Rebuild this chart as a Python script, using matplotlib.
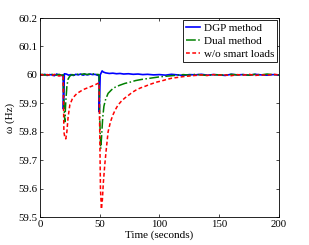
import matplotlib
matplotlib.use("Agg")
import matplotlib.pyplot as plt
from matplotlib.ticker import FuncFormatter

plt.rcParams['font.family'] = ['Liberation Serif', 'DejaVu Serif']

# DGP method
t_dgp = [0, 2, 4, 6, 8, 10, 12, 14, 16, 18, 19.4, 19.6, 20.4, 22, 24, 26, 28, 30, 32, 34,
         36, 38, 40, 42, 44, 46, 48, 49.4, 49.6, 50.4, 52, 53, 55, 58, 61, 64, 67, 70, 74,
         78, 82, 86, 90, 95, 100, 105, 110, 115, 120, 125, 130, 135, 140, 145, 150, 155,
         160, 165, 170, 175, 180, 185, 190, 195, 200]
f_dgp = [60.001, 59.999, 60.002, 59.998, 60.001, 60.000, 59.997, 60.003, 59.999, 59.998,
         59.999, 59.880, 60.004, 60.003, 59.999, 60.001, 59.998, 60.002, 60.000, 60.003,
         59.999, 60.002, 60.000, 60.003, 60.001, 60.002, 59.999, 59.998, 59.870, 60.000,
         60.014, 60.010, 60.007, 60.005, 60.006, 60.004, 60.005, 60.003, 60.004, 60.002,
         60.003, 60.001, 60.002, 60.000, 60.001, 59.999, 60.002, 60.000, 59.998, 60.001,
         60.000, 60.002, 59.999, 60.001, 60.000, 59.998, 60.002, 60.000, 60.001, 59.999,
         60.002, 60.000, 59.999, 60.001, 60.000]

# Dual method
t_dual = [0, 2, 4, 6, 8, 10, 12, 14, 16, 18, 19.4, 20, 20.8, 21.5, 22.5, 23.5, 25, 27, 29,
          31, 33, 35, 37, 39, 41, 43, 45, 47, 49.4, 50, 50.8, 51.5, 52.5, 53.5, 55, 57, 60,
          63, 67, 71, 75, 80, 85, 90, 95, 100, 105, 110, 115, 120, 125, 130, 135, 140, 145,
          150, 155, 160, 165, 170, 175, 180, 185, 190, 195, 200]
f_dual = [60.000, 60.002, 59.999, 60.001, 59.998, 60.002, 60.000, 59.999, 60.002, 59.999,
          60.000, 59.900, 59.835, 59.900, 59.960, 59.985, 59.996, 60.001, 59.999, 60.003,
          60.000, 60.002, 60.004, 60.001, 60.003, 60.000, 60.004, 60.002, 60.001, 59.850,
          59.740, 59.780, 59.850, 59.890, 59.915, 59.935, 59.948, 59.957, 59.964, 59.970,
          59.974, 59.980, 59.984, 59.987, 59.990, 59.993, 59.995, 59.997, 59.999, 60.001,
          59.999, 60.002, 60.000, 59.998, 60.001, 60.000, 59.999, 60.002, 60.000, 60.001,
          59.999, 60.002, 60.000, 60.003, 60.001, 60.000]

# w/o smart loads
t_nosl = [0, 2, 4, 6, 8, 10, 12, 14, 16, 18, 19.4, 20, 20.6, 21.6, 22.5, 23.5, 25, 27, 29,
          31, 33, 36, 39, 42, 45, 47, 49.4, 50, 50.6, 51.4, 52.2, 53, 54.2, 55.5, 57, 59,
          61, 63, 65.3, 68, 70.8, 74, 77, 80.5, 84, 88, 91, 94.4, 98, 102, 106, 110, 115,
          120, 125, 130, 135, 140, 145, 150, 155, 160, 165, 170, 175, 180, 185, 190, 195, 200]
f_nosl = [60.002, 60.000, 59.998, 60.001, 59.999, 59.997, 60.002, 59.998, 59.996, 59.999,
          59.998, 59.800, 59.785, 59.775, 59.800, 59.850, 59.895, 59.915, 59.926, 59.935,
          59.940, 59.948, 59.953, 59.958, 59.963, 59.967, 59.972, 59.800, 59.600, 59.528,
          59.560, 59.620, 59.683, 59.740, 59.800, 59.835, 59.859, 59.877, 59.894, 59.907,
          59.918, 59.928, 59.938, 59.947, 59.954, 59.960, 59.965, 59.970, 59.975, 59.979,
          59.984, 59.988, 59.991, 59.994, 59.996, 59.998, 60.000, 59.998, 60.001, 59.999,
          60.000, 59.997, 60.001, 59.999, 60.002, 59.998, 60.000, 59.999, 60.002, 60.000]

fig = plt.figure(figsize=(3.09, 2.45), dpi=100)
ax = fig.add_axes([0.1294, 0.114, 0.7735, 0.8125])

ax.plot(t_dgp, f_dgp, color='#0000ff', lw=1.2, label='DGP method')
ax.plot(t_dual, f_dual, color='#008000', lw=1.1, ls='-.', label='Dual method')
ax.plot(t_nosl, f_nosl, color='#ff0000', lw=1.1, ls=(0, (2.5, 1.6)), label='w/o smart loads')

ax.set_xlim(0, 200)
ax.set_ylim(59.5, 60.2)
ax.set_xticks([0, 50, 100, 150, 200])
ax.set_yticks([59.5, 59.6, 59.7, 59.8, 59.9, 60.0, 60.1, 60.2])
ax.yaxis.set_major_formatter(FuncFormatter(lambda v, p: '%g' % round(v, 1)))
ax.tick_params(direction='in', top=True, right=True, labelsize=7.8, length=2.5, width=0.5, pad=2)
for s in ax.spines.values():
    s.set_linewidth(0.6)

ax.set_xlabel('Time (seconds)', fontsize=8, labelpad=1)
ax.set_ylabel('ω (Hz)', fontsize=8, labelpad=2)

leg = ax.legend(loc='upper right', fontsize=8, handlelength=1.3, handletextpad=0.3,
                labelspacing=0.3, borderpad=0.3, borderaxespad=0.15, fancybox=False,
                framealpha=1, edgecolor='black')
leg.get_frame().set_linewidth(0.6)

fig.savefig('out.png', dpi=100)
